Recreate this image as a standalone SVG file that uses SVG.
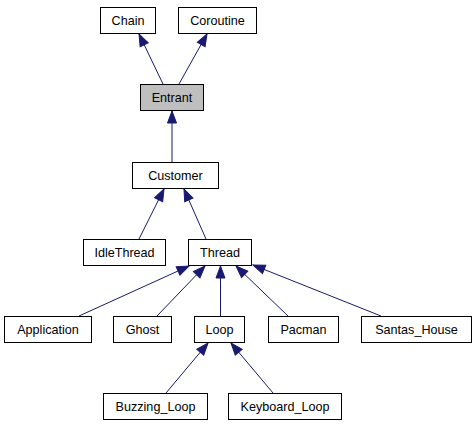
<svg xmlns="http://www.w3.org/2000/svg" width="475" height="427" viewBox="0 0 475 427">
<style>
.n rect{fill:#ffffff;stroke:#000000;stroke-width:1}
.n.g rect{fill:#bfbfbf}
.n text{font-family:"Liberation Sans",Arial,sans-serif;font-size:12.6px;fill:#000000;text-anchor:middle}
.e path{fill:none;stroke:#191970;stroke-width:1;marker-end:url(#ah)}
</style>
<defs>
<marker id="ah" markerUnits="userSpaceOnUse" markerWidth="14" markerHeight="12" refX="13" refY="5.5" orient="auto" viewBox="0 0 14 12">
<path d="M1,1 L13,5.5 L1,10 z" fill="#191970" stroke="#191970" stroke-width="1"/>
</marker>
</defs>
<rect width="475" height="427" fill="#ffffff"/>
<g id="edges" class="e">
<path d="M163,84 L139,34"/>
<path d="M179,84 L207,34"/>
<path d="M172,162 L172,111"/>
<path d="M139,239 L164,189"/>
<path d="M206,239 L184,189"/>
<path d="M79,316 L189,266"/>
<path d="M157,316 L205,266"/>
<path d="M220.5,316 L220.5,266"/>
<path d="M288,316 L236,266"/>
<path d="M381,316 L253,265"/>
<path d="M166,393 L208,343"/>
<path d="M273,393 L231,343"/>
</g>
<g id="chain" class="n"><rect x="100.5" y="7.5" width="55" height="26"/><text x="128" y="24.5">Chain</text></g>
<g id="coroutine" class="n"><rect x="178.5" y="7.5" width="78" height="26"/><text x="217.5" y="24.5">Coroutine</text></g>
<g id="entrant" class="n g"><rect x="140.5" y="84.5" width="63" height="26"/><text x="172" y="101.5">Entrant</text></g>
<g id="customer" class="n"><rect x="132.5" y="162.5" width="86" height="26"/><text x="175.5" y="179.5">Customer</text></g>
<g id="idlethread" class="n"><rect x="83.5" y="239.5" width="82" height="26"/><text x="124.5" y="256.5">IdleThread</text></g>
<g id="thread" class="n"><rect x="188.5" y="239.5" width="63" height="26"/><text x="220" y="256.5">Thread</text></g>
<g id="application" class="n"><rect x="4.5" y="316.5" width="87" height="26"/><text x="48" y="333.5">Application</text></g>
<g id="ghost" class="n"><rect x="113.5" y="316.5" width="58" height="26"/><text x="142.5" y="333.5">Ghost</text></g>
<g id="loop" class="n"><rect x="194.5" y="316.5" width="50" height="26"/><text x="219.5" y="333.5">Loop</text></g>
<g id="pacman" class="n"><rect x="268.5" y="316.5" width="70" height="26"/><text x="303.5" y="333.5">Pacman</text></g>
<g id="santas_house" class="n"><rect x="361.5" y="316.5" width="110" height="26"/><text x="416.5" y="333.5">Santas_House</text></g>
<g id="buzzing_loop" class="n"><rect x="103.5" y="393.5" width="104" height="26"/><text x="155.5" y="410.5">Buzzing_Loop</text></g>
<g id="keyboard_loop" class="n"><rect x="228.5" y="393.5" width="113" height="26"/><text x="285" y="410.5">Keyboard_Loop</text></g>
</svg>
